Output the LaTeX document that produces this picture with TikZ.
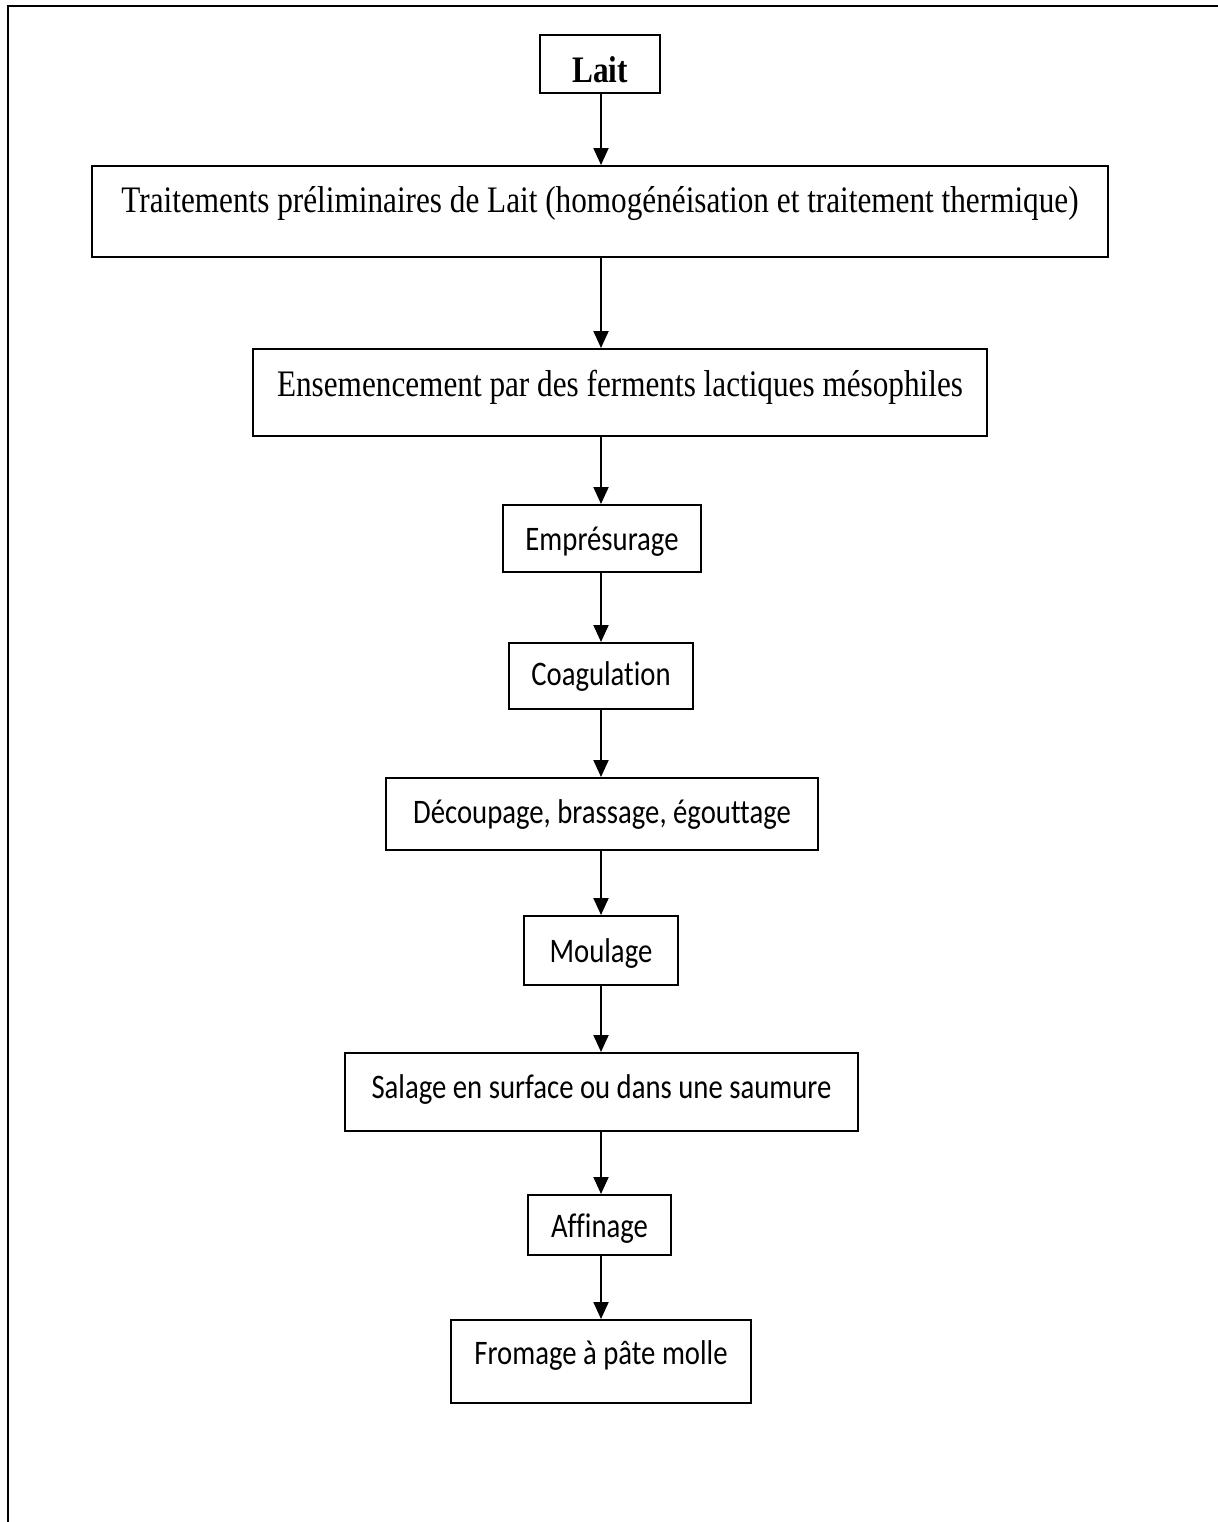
\documentclass[tikz,border=0pt]{standalone}
\usepackage{fontspec}
\usepackage{graphicx}
\setmainfont{Liberation Serif}
\newfontfamily\calfont[Ligatures=NoCommon]{Carlito}
\newcommand{\sqz}[1]{\scalebox{0.835}[1]{#1}}
\usetikzlibrary{arrows.meta}
\begin{document}
\begin{tikzpicture}[x=0.5pt,y=-0.5pt,
  box/.style={draw, line width=1pt, rectangle, inner xsep=0pt, inner ysep=0pt},
  tnr/.style={font=\fontsize{18.7}{22}\selectfont},
  cal/.style={font=\calfont\fontsize{17.2}{20}\selectfont},
  arr/.style={line width=1pt, -{Triangle[width=7.5pt,length=8.5pt]}},
  frame/.style={line width=1.2pt}]
\useasboundingbox (0,0) rectangle (1218,1522);
\coordinate (tl) at (8,6);
\coordinate (tr) at (1218,6);
\coordinate (bl) at (8,1522);
\draw[frame] (tr) -- (tl) -- (bl);
\coordinate (ax) at (601,0);

\node[box, minimum width=60pt, text height=23.5pt, text depth=5.5pt, font=\fontsize{18.7}{22}\selectfont\bfseries] (lait) at (600,64) {\sqz{Lait}};
\node[box, tnr, minimum width=508pt, text height=23pt, text depth=22.5pt] (trait) at (600,211.5) {\sqz{Traitements préliminaires de Lait (homogénéisation et traitement thermique)}};
\node[box, tnr, minimum width=367pt, text height=23.5pt, text depth=20pt] (ense) at (620,392.5) {\sqz{Ensemencement par des ferments lactiques mésophiles}};
\node[box, cal, minimum width=99pt, text height=22.5pt, text depth=11pt] (empr) at (602,538.5) {\sqz{Emprésurage}};
\node[box, cal, minimum width=92pt, text height=21pt, text depth=12pt] (coag) at (601,676) {\sqz{Coagulation}};
\node[box, cal, minimum width=216pt, text height=22.5pt, text depth=13.5pt] (decoup) at (602,814) {\sqz{Découpage, brassage, égouttage}};
\node[box, cal, minimum width=77pt, text height=23pt, text depth=11.5pt] (moul) at (601,950.5) {\sqz{Moulage}};
\node[box, cal, minimum width=256.5pt, text height=22.5pt, text depth=16.5pt] (sal) at (601.5,1092) {\sqz{Salage en surface ou dans une saumure}};
\node[box, cal, minimum width=71.5pt, text height=21pt, text depth=9pt] (aff) at (599.5,1225) {\sqz{Affinage}};
\node[box, cal, minimum width=150pt, text height=22pt, text depth=19.5pt] (from) at (601,1361.5) {\sqz{Fromage à pâte molle}};

\draw[arr] (lait.south -| ax) -- (trait.north -| ax);
\draw[arr] (trait.south -| ax) -- (ense.north -| ax);
\draw[arr] (ense.south -| ax) -- (empr.north -| ax);
\draw[arr] (empr.south -| ax) -- (coag.north -| ax);
\draw[arr] (coag.south -| ax) -- (decoup.north -| ax);
\draw[arr] (decoup.south -| ax) -- (moul.north -| ax);
\draw[arr] (moul.south -| ax) -- (sal.north -| ax);
\draw[arr] (sal.south -| ax) -- (aff.north -| ax);
\draw[arr] (aff.south -| ax) -- (from.north -| ax);
\end{tikzpicture}
\end{document}
